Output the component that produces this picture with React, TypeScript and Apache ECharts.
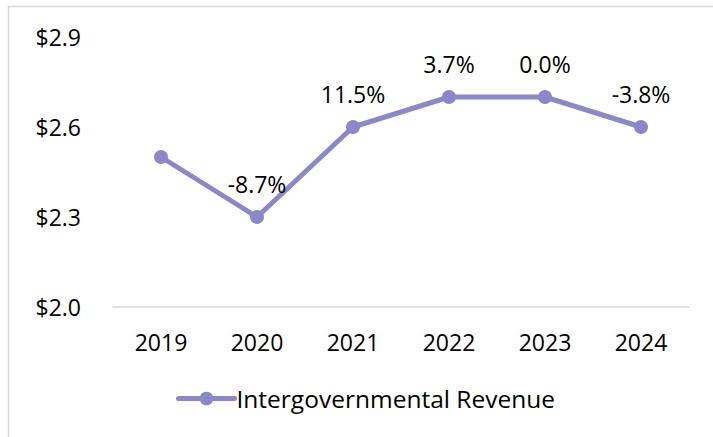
import React, { useEffect, useRef } from "react";
import * as echarts from "echarts";

const categories = ["2019", "2020", "2021", "2022", "2023", "2024"];
const revenue = [2.5, 2.3, 2.6, 2.7, 2.7, 2.6];
const changeLabels = ["", "-8.7%", "11.5%", "3.7%", "0.0%", "-3.8%"];
const seriesName = "Intergovernmental Revenue";

const COLOR = "#8C87C9";
const FONT = "'Open Sans', 'Noto Sans', sans-serif";
const FS = 23;

export default function App() {
  const ref = useRef<HTMLDivElement>(null);
  useEffect(() => {
    if (!ref.current) return;
    const chart = echarts.init(ref.current, undefined, { renderer: "svg" });
    chart.setOption({
      animation: false,
      backgroundColor: "#ffffff",
      textStyle: { fontFamily: FONT },
      graphic: [
        {
          type: "rect",
          shape: { x: 8.5, y: 6.5, width: 720, height: 440 },
          style: { fill: "none", stroke: "#D9D9D9", lineWidth: 1.5 },
          silent: true,
        },
      ],
      grid: { left: 113, right: 24, top: 37, bottom: 130, containLabel: false },
      xAxis: {
        type: "category",
        data: categories,
        boundaryGap: true,
        axisLine: { show: true, lineStyle: { color: "#D9D9D9", width: 1.5 } },
        axisTick: { show: false },
        axisLabel: { color: "#000", fontSize: FS, fontFamily: FONT, margin: 23 },
        splitLine: { show: false },
      },
      yAxis: {
        type: "value",
        min: 2.0,
        max: 2.9,
        interval: 0.3,
        axisLine: { show: false },
        axisTick: { show: false },
        splitLine: { show: false },
        axisLabel: {
          color: "#000",
          fontSize: FS,
          fontFamily: FONT,
          margin: 32,
          formatter: (v: number) => "$" + v.toFixed(1),
        },
      },
      legend: {
        bottom: 21,
        left: 171,
        itemWidth: 56,
        itemHeight: 17,
        itemGap: 10,
        lineStyle: { width: 5, color: COLOR, cap: "round" },
        itemStyle: { color: COLOR },
        textStyle: { color: "#000", fontSize: 24.5, fontFamily: FONT, padding: [0, 0, 0, -3] },
        data: [seriesName],
      },
      series: [
        {
          name: seriesName,
          type: "line",
          data: revenue,
          color: COLOR,
          symbol: "circle",
          symbolSize: 14,
          lineStyle: { color: COLOR, width: 5 },
          itemStyle: { color: COLOR },
          label: {
            show: true,
            position: "top",
            distance: 15,
            color: "#000",
            fontSize: FS,
            fontFamily: FONT,
            formatter: (p: any) => changeLabels[p.dataIndex],
          },
        },
      ],
    });
    return () => chart.dispose();
  }, []);
  return (
    <div
      ref={ref}
      style={{ position: "absolute", left: 0, top: 0, width: 713, height: 437 }}
    />
  );
}
